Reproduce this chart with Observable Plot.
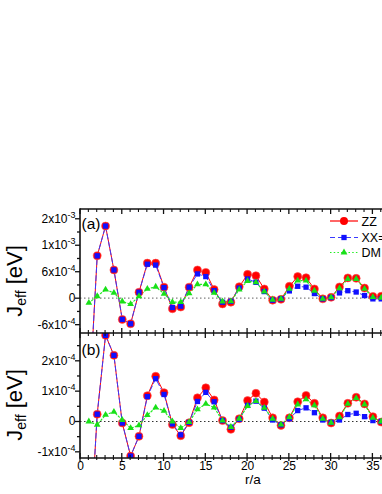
<!DOCTYPE html>
<html><head><meta charset="utf-8">
<script src="https://cdn.jsdelivr.net/npm/d3@7"></script>
<script src="https://cdn.jsdelivr.net/npm/@observablehq/plot@0.6"></script>
<style>
html,body{margin:0;padding:0;background:#fff}
body{width:382px;height:494px;overflow:hidden;font-family:"Liberation Sans",Arial,sans-serif}
#chart svg{display:block}
</style></head><body><div id="chart"></div>
<script>
// distance r/a
const rValues = [1,2,3,4,5,6,7,8,9,10,11,12,13,14,15,16,17,18,19,20,21,22,23,24,25,26,27,28,29,30,31,32,33,34,35,36];

// panel (a)
const zzA = [-2.5e-3,9.6e-4,1.635e-3,6.4e-4,-4.8e-4,-5.8e-4,1.35e-4,7.95e-4,7.95e-4,2.5e-4,-2.4e-4,-2.0e-4,2.5e-4,6.4e-4,5.85e-4,1.95e-4,-1.3e-4,-9e-5,2.6e-4,5.4e-4,5.1e-4,2.1e-4,-4.5e-5,-2.5e-5,2.7e-4,4.9e-4,4.65e-4,2.1e-4,-1.5e-5,2e-5,2.55e-4,4.6e-4,4.5e-4,2.3e-4,4e-5,4.5e-5];
const xxA = [-2.5e-3,9.6e-4,1.635e-3,6.4e-4,-4.8e-4,-5.8e-4,1.35e-4,7.7e-4,7.5e-4,2.4e-4,-2.1e-4,-1.8e-4,2.5e-4,5.5e-4,4.9e-4,1.7e-4,-9e-5,-7e-5,2.3e-4,4.35e-4,3.6e-4,1.5e-4,-4.5e-5,-1.5e-5,1.65e-4,2.7e-4,2.5e-4,1.05e-4,-1.5e-5,1.5e-5,1.2e-4,1.7e-4,1.4e-4,6e-5,-1.5e-5,-1.5e-5];
const dmA = [-1.05e-4,4.5e-5,1.95e-4,1.2e-4,-7.5e-5,-1.35e-4,4.5e-5,2.1e-4,2.6e-4,1.0e-4,-9e-5,-9e-5,1.1e-4,3.15e-4,3.15e-4,1.2e-4,-7.5e-5,-7e-5,1.95e-4,3.9e-4,3.6e-4,1.5e-4,-3.5e-5,-1.5e-5,2.1e-4,4.0e-4,4.0e-4,1.7e-4,-1.5e-5,2e-5,2.25e-4,4.35e-4,4.35e-4,2.1e-4,2.5e-5,1e-5];

// panel (b)
const zzB = [-4.5e-4,2.4e-5,2.84e-4,2.18e-4,-5e-6,-1.14e-4,-4.9e-5,8.5e-5,1.49e-4,9.5e-5,-1e-5,-4.7e-5,-4e-6,7.8e-5,1.11e-4,7.1e-5,3e-6,-2.6e-5,9e-6,6.9e-5,9.3e-5,6.4e-5,1.2e-5,-1.3e-5,1.2e-5,6.5e-5,8.6e-5,6.0e-5,1.2e-5,-5e-6,1.8e-5,6.0e-5,8.0e-5,5.8e-5,1.6e-5,-2e-6];
const xxB = [-4.5e-4,2.4e-5,2.84e-4,2.18e-4,-5e-6,-1.14e-4,-4.9e-5,8.2e-5,1.41e-4,8.9e-5,-8e-6,-4.4e-5,-3e-6,6.6e-5,9.6e-5,6.5e-5,3e-6,-1.9e-5,7e-6,5.3e-5,6.7e-5,4.4e-5,5e-6,-1.1e-5,9e-6,3.6e-5,4.5e-5,2.9e-5,5e-6,-3e-6,5e-6,2.3e-5,2.7e-5,1.6e-5,3e-6,0];
const dmB = [0,-1.1e-5,2.2e-5,3.2e-5,5e-6,-2.2e-5,-1.3e-5,2.1e-5,4.6e-5,3.5e-5,0,-2.2e-5,-2e-6,4.0e-5,5.8e-5,4.6e-5,3e-6,-1.8e-5,9e-6,5.1e-5,6.7e-5,4.5e-5,9e-6,-1e-5,1.4e-5,5.6e-5,7.3e-5,5.3e-5,9e-6,-4e-6,1.4e-5,5.8e-5,7.7e-5,5.6e-5,1.2e-5,0];

// ticks
const xMajor = [0,5,10,15,20,25,30,35];
const xMinor = [1,2,3,4,6,7,8,9,11,12,13,14,16,17,18,19,21,22,23,24,26,27,28,29,31,32,33,34,36];
const yMajorA = [-6e-4,0,6e-4,1.2e-3,1.8e-3];
const yLabelsA = ["-6x10^-4","0","6x10^-4","1x10^-3","2x10^-3"];
const yMinorA = [-3e-4,3e-4,9e-4,1.5e-3];
const yMajorB = [-1e-4,0,1e-4,2e-4];
const yLabelsB = ["-1x10^-4","0","1x10^-4","2x10^-4"];
const yMinorB = [-5e-5,5e-5,1.5e-4,2.5e-4];

const seriesNames = ["ZZ","XX=YY","DM"];
const colors = {zz:"#ff0000", xx:"#1010ff", dm:"#18e018"};

const rows = vals => rValues.map((r,i) => ({r, v: vals[i]}));
const ink = "#111111";

function panel(cfg){
  const zz = rows(cfg.zz), xx = rows(cfg.xx), dm = rows(cfg.dm);
  const marks = [
    Plot.ruleY([0], {stroke:cfg.zeroColor, strokeWidth:1.2, strokeDasharray:"1.5,2.5"}),
    Plot.line(zz, {x:"r", y:"v", stroke:colors.zz, strokeWidth:1, clip:true}),
    Plot.line(xx, {x:"r", y:"v", stroke:"#3a3aff", strokeWidth:1, strokeDasharray:"5,3", clip:true}),
    Plot.line(dm, {x:"r", y:"v", stroke:"#22ee22", strokeWidth:1.2, strokeDasharray:"1.5,2.2", clip:true}),
    Plot.dot(zz, {x:"r", y:"v", r:4, fill:colors.zz, stroke:"#ff5050", strokeWidth:0.6, clip:true}),
    Plot.dot(xx, {x:"r", y:"v", symbol:"square", r:3.0, fill:colors.xx, clip:true}),
    Plot.dot(dm, {x:"r", y:"v", symbol:"triangle", r:2.5, fill:colors.dm, clip:true}),
    Plot.axisY(cfg.yMajor, {tickSize:5, fill:"none", stroke:ink, strokeWidth:1.3, label:null}),
    Plot.axisY(cfg.yMinor, {tickSize:3, fill:"none", stroke:ink, strokeWidth:1.3, label:null}),
    Plot.axisY(cfg.yMajor, {tickSize:0, tickPadding:5, label:null, fill:"#000",
      tickFormat: d => cfg.yLabels[cfg.yMajor.indexOf(d)]})
  ];
  if (cfg.bottomLabels) {
    marks.push(Plot.axisX(xMajor, {anchor:"bottom", tickSize:0, tickPadding:3, label:null, fill:"#000"}));
  }
  const svg = Plot.plot({
    width: 382, height: cfg.height,
    marginTop: cfg.marginTop, marginBottom: cfg.marginBottom, marginLeft: 80, marginRight: 0,
    x: cfg.bottomLabels ? {domain:[0, 36.15], label:null} : {domain:[0, 36.15], label:null, axis:null},
    y: {domain: cfg.yDomain, label:null},
    style: {fontFamily:'"Liberation Sans", Arial, sans-serif', fontSize:"12px", color:"#000", background:"#fff"},
    marks
  });
  // superscripts in tick labels
  d3.select(svg).selectAll("text").each(function(){
    const t = this.textContent;
    if (t.includes("^")) {
      const [base, sup] = t.split("^");
      const sel = d3.select(this);
      sel.text(base);
      sel.append("tspan").attr("dy","-0.55em").attr("font-size","9px").text(sup);
    }
  });
  const s = d3.select(svg);
  // frame lines and x ticks placed through the plot's own scales
  const xs = svg.scale("x"), ys = svg.scale("y");
  const xl = Math.min(...xs.range), xr = 390;
  const yTop = Math.min(...ys.range), yBot = Math.max(...ys.range);
  const g = s.append("g");
  const seg = (x1,y1,x2,y2,w) => g.append("line").attr("x1",x1).attr("y1",y1).attr("x2",x2).attr("y2",y2)
    .attr("stroke", ink).attr("stroke-width",w).style("stroke", ink);
  for (const v of xMajor) {
    const px = xs.apply(v);
    seg(px, yTop, px, yTop + 5, 1.3);
    seg(px, yBot, px, yBot - 5, 1.3);
    if (cfg.bottomLabels) seg(px, yBot, px, yBot + 3, 1.3);
  }
  for (const v of xMinor) {
    const px = xs.apply(v);
    seg(px, yTop, px, yTop + 3, 1.1);
    seg(px, yBot, px, yBot - 3, 1.1);
    if (cfg.bottomLabels) seg(px, yBot, px, yBot + 2, 1.1);
  }
  seg(xl, yTop, xr, yTop, 1.6);
  seg(xl, yBot, xr, yBot, 1.6);
  seg(xl, yTop - 0.8, xl, yBot + 0.8, 1.6);
  // y title
  const yt = s.append("text")
    .attr("transform", `translate(21.5,${cfg.titleY}) rotate(-90)`)
    .attr("text-anchor","middle").attr("font-size","22px").attr("fill","#000");
  yt.append("tspan").text("J");
  yt.append("tspan").attr("font-size","14px").attr("dy","4").text("eff");
  yt.append("tspan").attr("dy","-4").text(" [eV]");
  // panel letter
  s.append("text").attr("x",81.5).attr("y",cfg.letterY).attr("text-anchor","start")
    .attr("font-size","15.5px").attr("fill","#000").text(cfg.letter);
  return svg;
}

const svgA = panel({zz:zzA, xx:xxA, dm:dmA, yDomain:[-8e-4, 2.01e-3], yMajor:yMajorA, yLabels:yLabelsA, yMinor:yMinorA,
  height:333, marginTop:209, marginBottom:0, titleY:281, letter:"(a)", letterY:228.5, zeroColor:"#808080"});
const svgB = panel({zz:zzB, xx:xxB, dm:dmB, yDomain:[-1.22e-4, 2.90e-4], yMajor:yMajorB, yLabels:yLabelsB, yMinor:yMinorB,
  height:161, marginTop:0, marginBottom:36, titleY:72, letter:"(b)", letterY:22, bottomLabels:true, zeroColor:"#333333"});

// legend in panel (a)
{
  const s = d3.select(svgA);
  const items = [
    {name: seriesNames[0], y: 221, stroke: colors.zz, dash: null, sym: d3.symbolCircle, size: 50, fill: colors.zz},
    {name: seriesNames[1], y: 237.5, stroke: "#3a3aff", dash: "5,3", sym: d3.symbolSquare, size: 28, fill: colors.xx},
    {name: seriesNames[2], y: 252.5, stroke: "#22ee22", dash: "1.5,2.2", sym: d3.symbolTriangle, size: 20, fill: colors.dm}
  ];
  for (const it of items) {
    s.append("line").attr("x1",330).attr("x2",358).attr("y1",it.y).attr("y2",it.y)
      .attr("stroke",it.stroke).attr("stroke-width",1.2).attr("stroke-dasharray",it.dash);
    s.append("path").attr("d", d3.symbol(it.sym, it.size)()).attr("transform",`translate(344,${it.y})`).attr("fill",it.fill);
    s.append("text").attr("x",361.5).attr("y",it.y).attr("dy","0.36em").attr("text-anchor","start")
      .attr("font-size","12.5px").attr("fill","#000").text(it.name);
  }
}
// x label
d3.select(svgB).append("text").attr("x",253).attr("y",151).attr("text-anchor","middle")
  .attr("font-size","13.5px").attr("fill","#000").text("r/a");

document.getElementById("chart").append(svgA, svgB);
</script>
</body></html>
